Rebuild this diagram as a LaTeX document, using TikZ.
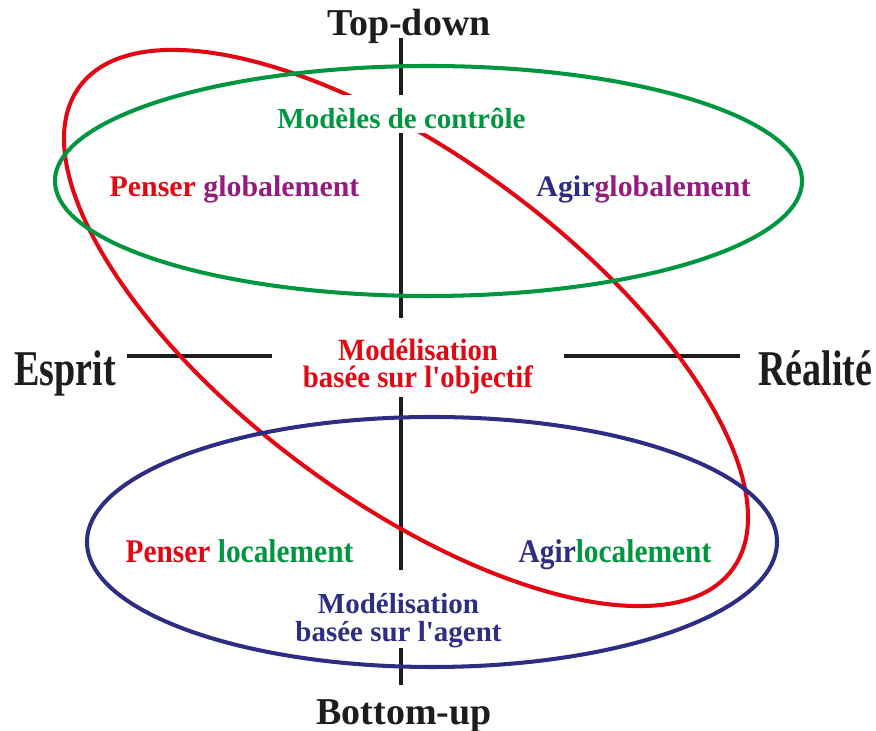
\documentclass[tikz,border=0pt]{standalone}
\usepackage{fontspec}
\setmainfont{Liberation Serif}
\newfontfamily\narrowfont[FakeStretch=0.93]{Liberation Serif}
\newfontfamily\narrowerfont[FakeStretch=0.89]{Liberation Serif}
\newfontfamily\condensedfont[FakeStretch=0.76]{Liberation Serif}
\usetikzlibrary{positioning}
\definecolor{mred}{RGB}{227, 6, 19}
\definecolor{mgreen}{RGB}{0, 150, 64}
\definecolor{mindigo}{RGB}{45, 46, 131}
\definecolor{mpurple}{RGB}{149, 27, 129}
\definecolor{mblack}{RGB}{29, 29, 27}

\begin{document}
\begin{tikzpicture}[
    axis/.style={draw=mblack, line width=2.3pt},
    loop/.style={line width=2.3pt},
    pole/.style={font=\bfseries\fontsize{21.6}{24}\selectfont, text=mblack, inner sep=0pt},
    side/.style={font=\condensedfont\bfseries\fontsize{28.5}{32}\selectfont, text=mblack, inner sep=0pt},
    quad/.style={font=\bfseries\fontsize{17}{20}\selectfont, inner sep=0pt},
    quadlow/.style={font=\narrowerfont\bfseries\fontsize{18.8}{22}\selectfont, inner sep=0pt},
    cover/.style={fill=white, align=center}
  ]
  \useasboundingbox (-8.02, -7.5) rectangle (9.5, 7.12);

  \coordinate (axtop) at (0, 6.36);
  \coordinate (axbottom) at (0, -6.58);
  \coordinate (axleft) at (-5.48, 0);
  \coordinate (axright) at (6.78, 0);
  \draw [axis] (axtop) -- (axbottom);
  \draw [axis] (axleft) -- (axright);

  \node (agent) at (-0.05, -5.06) [cover, text=mindigo, minimum height=1.48cm, inner xsep=0.1cm, inner ysep=0pt,
    font=\bfseries\fontsize{16.5}{15.9}\selectfont] {\rule{0pt}{0.88cm}Modélisation\\basée sur l\textquotesingle agent};

  \draw [loop, draw=mred, rotate around={-36.5:(0.1, 0.56)}] (0.1, 0.56) ellipse [x radius=8.12, y radius=3.43];
  \draw [loop, draw=mgreen] (0.55, 3.5) ellipse [x radius=7.47, y radius=2.3];
  \draw [loop, draw=mindigo] (0.62, -3.72) ellipse [x radius=6.9, y radius=2.5];

  \node (topdown) at (0.16, 6.4) [pole, anchor=base] {Top-down};
  \node (bottomup) at (0.06, -7.38) [pole, anchor=base] {Bottom-up};
  \node (esprit) at (-7.74, -0.6) [side, anchor=base west] {Esprit};
  \node (realite) at (7.14, -0.6) [side, anchor=base west] {Réalité};

  \node (controle) at (0.01, 4.54) [cover, anchor=base, text=mgreen, inner xsep=0.2cm, inner ysep=0pt,
    text height=0.68cm, text depth=0.08cm, font=\bfseries\fontsize{16.5}{19}\selectfont] {Modèles de contrôle};
  \node (objectif) at (0.34, -0.03) [cover, text=mred, minimum width=5.82cm, minimum height=1.58cm, inner sep=0pt,
    font=\narrowfont\bfseries\fontsize{17.6}{15.4}\selectfont] {\rule{0pt}{0.78cm}Modélisation\\basée sur l'objectif};

  \node (penseglob) at (-3.33, 3.18) [quad, anchor=base] {\textcolor{mred}{Penser} \textcolor{mpurple}{globalement}};
  \node (agirglob) at (4.85, 3.18) [quad, anchor=base] {\textcolor{mindigo}{Agir}\textcolor{mpurple}{globalement}};
  \node (penseloc) at (-3.23, -4.14) [quadlow, anchor=base] {\textcolor{mred}{Penser} \textcolor{mgreen}{localement}};
  \node (agirloc) at (4.28, -4.14) [quadlow, anchor=base] {\textcolor{mindigo}{Agir}\textcolor{mgreen}{localement}};
\end{tikzpicture}
\end{document}
